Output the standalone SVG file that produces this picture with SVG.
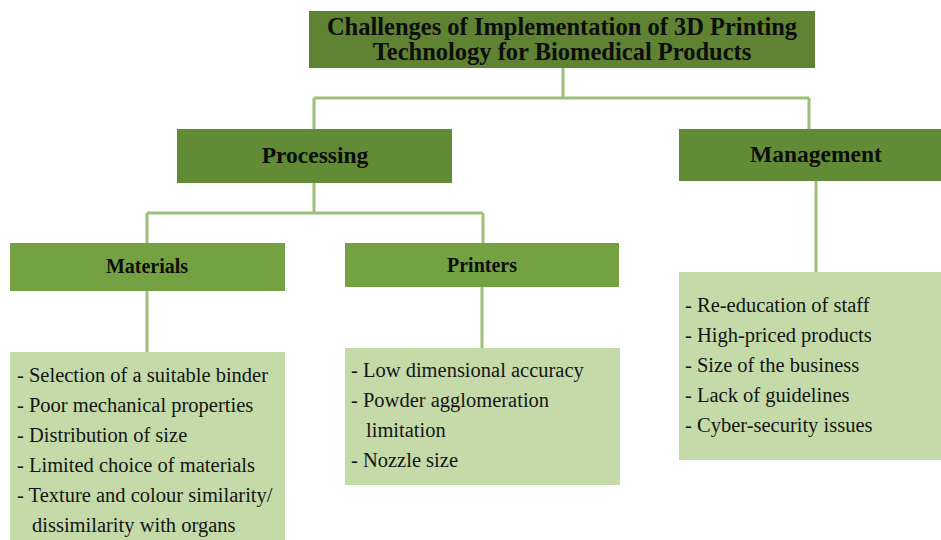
<svg xmlns="http://www.w3.org/2000/svg" width="941" height="540" viewBox="0 0 941 540">
  <style>
    .dark { fill: #5f8233; }
    .mid { fill: #618b35; }
    .light { fill: #74a141; }
    .pale { fill: #c4dba9; }
    .link { stroke: #9cc078; stroke-width: 3; fill: none; }
    .title { font-family: "Liberation Serif", "Times New Roman", serif; font-weight: bold; fill: #0d0d0d; text-anchor: middle; }
    .item { font-family: "Liberation Serif", "Times New Roman", serif; font-size: 20.5px; fill: #151515; }
  </style>
  <rect width="941" height="540" fill="#ffffff"/>

  <g id="connectors">
    <path class="link" d="M563 68 V98 M314 98 H809 M314 98 V129 M809 98 V129"/>
    <path class="link" d="M314 183 V213 M147 213 H483 M147 213 V243 M483 213 V243"/>
    <path class="link" d="M147 291 V352"/>
    <path class="link" d="M482 287 V348"/>
    <path class="link" d="M816 181 V272"/>
  </g>

  <g id="root">
    <rect class="dark" x="309" y="11" width="506" height="57"/>
    <text class="title" font-size="24.5" x="562" y="35">Challenges of Implementation of 3D Printing</text>
    <text class="title" font-size="24.5" x="562" y="60">Technology for Biomedical Products</text>
  </g>

  <g id="processing">
    <rect class="mid" x="177" y="129" width="275" height="54"/>
    <text class="title" font-size="23.5" x="315" y="163">Processing</text>
  </g>

  <g id="management">
    <rect class="mid" x="679" y="129" width="262" height="52"/>
    <text class="title" font-size="23.5" x="816" y="162">Management</text>
  </g>

  <g id="materials">
    <rect class="light" x="10" y="243" width="275" height="48"/>
    <text class="title" font-size="20" x="147" y="273">Materials</text>
  </g>

  <g id="printers">
    <rect class="light" x="345" y="243" width="274" height="44"/>
    <text class="title" font-size="20" x="482" y="272">Printers</text>
  </g>

  <g id="materials-issues">
    <rect class="pale" x="10" y="352" width="275" height="188"/>
    <text class="item" x="17" y="382">- Selection of a suitable binder</text>
    <text class="item" x="17" y="412">- Poor mechanical properties</text>
    <text class="item" x="17" y="442">- Distribution of size</text>
    <text class="item" x="17" y="472">- Limited choice of materials</text>
    <text class="item" x="17" y="502">- Texture and colour similarity/</text>
    <text class="item" x="32" y="532">dissimilarity with organs</text>
  </g>

  <g id="printers-issues">
    <rect class="pale" x="345" y="348" width="275" height="137"/>
    <text class="item" x="351" y="377">- Low dimensional accuracy</text>
    <text class="item" x="351" y="407">- Powder agglomeration</text>
    <text class="item" x="366" y="437">limitation</text>
    <text class="item" x="351" y="467">- Nozzle size</text>
  </g>

  <g id="management-issues">
    <rect class="pale" x="679" y="272" width="262" height="188"/>
    <text class="item" x="685" y="312">- Re-education of staff</text>
    <text class="item" x="685" y="342">- High-priced products</text>
    <text class="item" x="685" y="372">- Size of the business</text>
    <text class="item" x="685" y="402">- Lack of guidelines</text>
    <text class="item" x="685" y="432">- Cyber-security issues</text>
  </g>
</svg>
